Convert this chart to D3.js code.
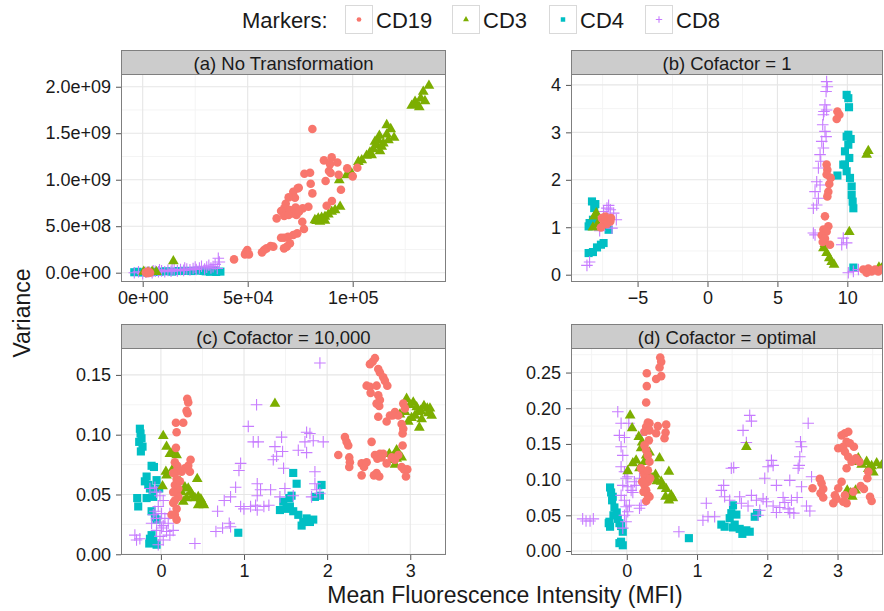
<!DOCTYPE html>
<html lang="en">
<head>
<meta charset="UTF-8" />
<title>MFI vs Variance by transformation</title>
<script src="https://cdn.jsdelivr.net/npm/d3@7"></script>
<style>
  body { margin: 0; background: #fff; }
  svg text { font-family: "Liberation Sans", Arial, Helvetica, sans-serif; fill: #1a1a1a; }
</style>
</head>
<body>
<div id="chart"></div>
<script>
// ---- data ----
const markers = ["CD19", "CD3", "CD4", "CD8"]
const markerColors = ["#F8766D", "#7CAE00", "#00BFC4", "#C77CFF"]
const panelTitles = ["(a) No Transformation", "(b) Cofactor = 1", "(c) Cofactor = 10,000", "(d) Cofactor = optimal"]

const xTicksA = [0, 5e4, 1e5], xLabelsA = ["0e+00", "5e+04", "1e+05"]
const yTicksA = [0, 5e8, 1e9, 1.5e9, 2e9], yLabelsA = ["0.0e+00", "5.0e+08", "1.0e+09", "1.5e+09", "2.0e+09"]
const xTicksB = [-5, 0, 5, 10], xLabelsB = ["\u22125", "0", "5", "10"]
const yTicksB = [0, 1, 2, 3, 4], yLabelsB = ["0", "1", "2", "3", "4"]
const xTicksC = [0, 1, 2, 3], xLabelsC = ["0", "1", "2", "3"]
const yTicksC = [0, 0.05, 0.1, 0.15], yLabelsC = ["0.00", "0.05", "0.10", "0.15"]
const xTicksD = [0, 1, 2, 3], xLabelsD = ["0", "1", "2", "3"]
const yTicksD = [0, 0.05, 0.1, 0.15, 0.2, 0.25], yLabelsD = ["0.00", "0.05", "0.10", "0.15", "0.20", "0.25"]

// (a) no transformation: [MFI, variance]
const a_CD19 = [[80800,1.545e9],[86300,1.208e9],[90000,1.24e9],[89200,1.168e9],[92700,1.186e9],[93300,1.054e9],[88700,1.093e9],[89500,1.072e9],[87100,0.986e9],[94400,0.892e9],[90100,0.771e9],[87600,0.72e9],[77000,1.064e9],[79700,1.075e9],[80000,0.957e9],[80800,0.853e9],[78900,0.71e9],[73800,0.907e9],[71700,0.871e9],[74300,0.914e9],[72500,0.806e9],[69500,0.81e9],[68100,0.742e9],[67400,0.692e9],[70100,0.674e9],[72800,0.702e9],[73200,0.62e9],[71700,0.638e9],[76200,0.692e9],[74400,0.656e9],[65900,0.663e9],[67400,0.609e9],[63800,0.584e9],[69500,0.62e9],[76000,0.548e9],[76800,0.47e9],[73600,0.423e9],[71700,0.405e9],[69200,0.387e9],[67300,0.376e9],[65900,0.376e9],[70100,0.315e9],[68600,0.28e9],[67300,0.262e9],[62200,0.28e9],[60900,0.287e9],[59000,0.262e9],[57800,0.244e9],[56800,0.219e9],[49800,0.244e9],[49200,0.219e9],[50600,0.197e9],[48700,0.197e9],[43500,0.143e9],[97400,1.122e9],[102200,1.129e9],[100000,1.036e9],[1500,0.005e9],[2500,0.012e9],[3500,0.0],[2000,-0.005e9],[3000,0.008e9]]
const a_CD3 = [[82000,0.566e9],[83600,0.584e9],[85200,0.591e9],[86800,0.602e9],[88400,0.627e9],[90000,0.656e9],[91600,0.674e9],[94000,0.71e9],[84400,0.548e9],[86800,0.559e9],[82800,0.556e9],[93600,0.996e9],[97100,1.05e9],[99500,1.068e9],[102700,1.193e9],[104300,1.211e9],[106600,1.258e9],[108200,1.294e9],[109800,1.33e9],[111400,1.373e9],[112200,1.426e9],[112700,1.473e9],[110600,1.409e9],[113800,1.355e9],[109000,1.265e9],[113000,1.308e9],[116200,1.588e9],[118100,1.545e9],[119700,1.452e9],[117000,1.426e9],[114600,1.391e9],[116200,1.487e9],[128100,1.796e9],[129700,1.839e9],[131700,1.781e9],[132400,1.874e9],[133600,1.946e9],[136300,2.011e9],[134400,1.846e9],[130500,1.81e9],[500,0.01e9],[2500,0.005e9],[4500,0.012e9],[6500,0.008e9],[14600,0.125e9]]
const a_CD4 = [[-4000,0.005e9],[-2500,0.01e9],[0,0.002e9],[2000,0.008e9],[5000,0.01e9],[8000,0.012e9],[11000,0.015e9],[14000,0.012e9],[17000,0.018e9],[20000,0.02e9],[23000,0.018e9],[26000,0.022e9],[29000,0.02e9],[32000,0.01e9],[35000,0.008e9],[37000,0.012e9],[34000,0.02e9],[30000,0.015e9]]
const a_CD8 = [[-4000,0.0],[-2000,0.01e9],[0,-0.01e9],[1500,0.005e9],[3000,0.01e9],[4500,0.0],[6000,0.015e9],[7500,0.01e9],[9000,0.02e9],[10500,0.01e9],[12000,0.025e9],[13500,0.015e9],[15000,0.03e9],[16500,0.02e9],[18000,0.035e9],[19500,0.025e9],[21000,0.04e9],[22500,0.03e9],[24000,0.045e9],[25500,0.035e9],[27000,0.05e9],[28000,0.07e9],[29500,0.04e9],[30500,0.06e9],[31500,0.08e9],[32500,0.05e9],[33500,0.065e9],[34500,0.09e9],[35500,0.045e9],[36000,0.155e9],[36500,0.115e9],[25000,0.06e9],[20000,0.05e9],[14000,0.04e9],[8000,0.03e9],[5000,0.02e9]]

// (b) cofactor = 1
const b_CD19 = [[-7.55,1.193],[-7.31,1.158],[-7.07,1.137],[-7.43,1.053],[-7.19,1.067],[-6.95,1.123],[-7.62,0.996],[-7.31,1.228],[-6.9,1.193],[9.29,3.44],[9.43,3.37],[9.24,3.28],[8.52,2.32],[8.57,2.21],[8.52,2.11],[8.81,2.04],[8.71,1.91],[8.64,1.75],[8.57,1.65],[8.4,1.23],[8.64,1.02],[8.29,0.95],[8.52,0.91],[8.17,0.83],[8.4,0.76],[8.24,0.69],[8.76,0.63],[11.14,0.11],[11.5,0.13],[11.74,0.07],[11.98,0.11],[12.21,0.07],[11.38,0.04],[12.45,0.11]]
const b_CD3 = [[-8.1,1.228],[-7.95,1.298],[-8.19,0.996],[-7.86,1.067],[11.38,2.53],[11.5,2.61],[10.14,0.9],[8.29,0.56],[8.52,0.46],[8.71,0.35],[8.88,0.27],[9.05,0.21],[8.4,0.65],[12.26,0.15],[12.45,0.13]]
const b_CD4 = [[-8.26,1.544],[-8.02,1.488],[-8.1,1.404],[-8.43,1.088],[-8.5,1.018],[-8.19,1.158],[-7.07,0.947],[-8.5,0.456],[-8.19,0.477],[-7.9,0.575],[-7.62,0.632],[-7.43,0.667],[9.95,3.79],[10.07,3.72],[10.12,3.53],[9.95,2.91],[10.24,2.86],[10.07,2.74],[9.83,2.6],[10.14,2.46],[9.71,2.32],[9.95,2.18],[10.19,2.04],[10.31,1.86],[10.31,1.68],[10.38,1.54],[10.43,1.4],[9.29,2.09],[10.43,0.15],[10.07,2.95],[9.83,2.32]]
const b_CD8 = [[-7.19,1.404],[-6.95,1.368],[-6.71,1.298],[-6.52,1.158],[-7.07,1.46],[-7.43,1.333],[-8.62,0.196],[-8.43,0.267],[-7.71,0.926],[-6.83,0.982],[-7.19,1.207],[8.52,4.07],[8.57,3.96],[8.48,3.86],[8.4,3.58],[8.33,3.44],[8.52,3.47],[8.29,3.37],[8.24,3.16],[8.4,3.02],[8.48,2.91],[8.17,2.81],[8.29,2.67],[8.05,2.53],[8.1,2.39],[7.93,2.25],[7.81,1.96],[8.05,1.89],[7.69,1.75],[7.93,1.61],[7.57,1.4],[7.81,1.47],[7.57,0.88],[7.69,0.84],[9.71,0.77],[9.95,0.67],[9.6,0.63],[10.43,0.07],[10.79,0.11],[11.38,0.07],[10.07,0.04]]

// (c) cofactor = 10,000
const c_CD19 = [[0.317,0.13],[0.329,0.127],[0.309,0.12],[0.321,0.118],[0.181,0.11],[0.269,0.11],[0.189,0.102],[0.181,0.089],[0.168,0.077],[0.197,0.074],[0.181,0.069],[0.249,0.069],[0.148,0.068],[0.189,0.063],[0.168,0.058],[0.189,0.052],[0.209,0.048],[0.168,0.045],[0.148,0.043],[0.189,0.038],[0.168,0.033],[0.189,0.029],[0.128,0.033],[0.289,0.072],[0.329,0.074],[0.357,0.079],[0.349,0.069],[0.229,0.061],[0.209,0.055],[0.148,0.052],[2.515,0.159],[2.547,0.161],[2.575,0.164],[2.615,0.155],[2.635,0.152],[2.475,0.141],[2.515,0.14],[2.595,0.141],[2.675,0.148],[2.695,0.145],[2.724,0.141],[2.615,0.133],[2.635,0.129],[2.595,0.126],[2.627,0.124],[2.615,0.115],[2.716,0.111],[2.756,0.116],[2.816,0.119],[2.856,0.116],[2.916,0.126],[2.936,0.122],[2.896,0.109],[2.916,0.105],[2.908,0.101],[2.523,0.135],[2.788,0.116],[2.214,0.098],[2.234,0.094],[2.254,0.091],[2.134,0.083],[2.266,0.081],[2.274,0.077],[2.266,0.073],[2.415,0.076],[2.443,0.073],[2.415,0.066],[2.535,0.094],[2.475,0.077],[2.575,0.083],[2.604,0.08],[2.635,0.084],[2.675,0.084],[2.655,0.081],[2.595,0.068],[2.563,0.066],[2.627,0.065],[2.776,0.081],[2.816,0.079],[2.856,0.083],[2.908,0.091],[2.896,0.073],[2.924,0.071],[2.964,0.071],[2.948,0.065],[2.716,0.076]]
const c_CD3 = [[0.028,0.099],[0.068,0.09],[0.108,0.084],[0.148,0.086],[0.189,0.083],[0.068,0.066],[0.02,0.057],[0.06,0.069],[0.148,0.072],[0.229,0.061],[0.249,0.052],[0.289,0.056],[0.329,0.055],[0.357,0.052],[0.381,0.049],[0.409,0.047],[0.449,0.048],[0.481,0.046],[0.501,0.043],[0.517,0.041],[0.449,0.041],[0.309,0.047],[0.269,0.044],[0.437,0.063],[1.372,0.126],[2.956,0.13],[2.996,0.125],[3.036,0.127],[3.077,0.123],[3.097,0.119],[3.057,0.116],[3.016,0.114],[3.125,0.12],[3.165,0.124],[3.205,0.122],[3.237,0.122],[3.217,0.118],[3.257,0.116],[3.137,0.113],[3.109,0.106],[2.936,0.119],[2.876,0.117],[2.976,0.111],[2.748,0.084],[2.796,0.082],[2.836,0.08],[2.816,0.075],[2.868,0.083],[2.896,0.081],[2.776,0.079],[2.836,0.087]]
const c_CD4 = [[-0.253,0.105],[-0.245,0.101],[-0.233,0.097],[-0.261,0.094],[-0.221,0.09],[-0.241,0.086],[-0.112,0.074],[-0.084,0.073],[-0.172,0.065],[-0.193,0.061],[-0.152,0.058],[-0.132,0.055],[-0.1,0.052],[-0.172,0.047],[-0.285,0.047],[-0.273,0.04],[-0.052,0.062],[-0.02,0.055],[-0.092,0.048],[-0.112,0.036],[-0.072,0.031],[-0.052,0.029],[-0.132,0.013],[-0.092,0.011],[-0.052,0.008],[-0.112,0.016],[-0.14,0.009],[0.931,0.018],[1.592,0.068],[1.633,0.059],[1.472,0.044],[1.512,0.038],[1.552,0.04],[1.592,0.036],[1.653,0.033],[1.713,0.027],[1.753,0.03],[1.793,0.027],[1.693,0.024],[1.833,0.029],[1.933,0.058],[1.913,0.049],[1.853,0.048],[1.572,0.049],[1.544,0.047],[1.432,0.037]]
const c_CD8 = [[1.913,0.16],[1.151,0.125],[1.051,0.107],[1.111,0.094],[1.171,0.094],[1.452,0.098],[1.372,0.09],[1.464,0.086],[1.352,0.079],[1.392,0.082],[1.476,0.072],[0.959,0.076],[0.939,0.07],[0.899,0.056],[0.838,0.048],[0.762,0.045],[0.682,0.036],[0.662,0.019],[0.742,0.022],[0.822,0.026],[0.838,0.023],[0.959,0.04],[0.999,0.038],[1.079,0.04],[1.139,0.041],[1.159,0.037],[1.239,0.04],[1.299,0.041],[1.32,0.054],[1.159,0.059],[1.199,0.054],[1.159,0.049],[1.432,0.048],[1.492,0.055],[1.592,0.049],[1.653,0.087],[1.753,0.085],[1.753,0.102],[1.793,0.101],[1.833,0.095],[1.953,0.094],[1.733,0.094],[1.853,0.069],[1.853,0.059],[1.873,0.054],[1.813,0.048],[1.913,0.051],[0.409,0.009],[-0.313,0.016],[-0.293,0.012],[-0.253,0.013],[-0.132,0.055],[-0.072,0.056],[-0.012,0.049],[-0.052,0.052],[0.028,0.045],[-0.032,0.04],[-0.092,0.033],[-0.052,0.03],[-0.012,0.027],[0.028,0.024],[0.048,0.03],[0.008,0.022],[-0.052,0.02],[0.068,0.019],[0.108,0.016],[0.148,0.02],[-0.012,0.015],[0.028,0.012],[-0.032,0.008],[0.088,0.026],[-0.112,0.026],[-0.072,0.036],[0.008,0.034],[0.108,0.034]]

// (d) cofactor = optimal
const d_CD19 = [[0.476,0.271],[0.49,0.265],[0.466,0.257],[0.418,0.241],[0.49,0.245],[0.285,0.249],[0.285,0.231],[0.276,0.208],[0.3,0.18],[0.323,0.179],[0.276,0.174],[0.442,0.175],[0.418,0.165],[0.561,0.177],[0.552,0.166],[0.537,0.158],[0.252,0.167],[0.323,0.169],[0.314,0.155],[0.252,0.148],[0.276,0.141],[0.3,0.134],[0.323,0.125],[0.204,0.116],[0.238,0.111],[0.252,0.106],[0.276,0.102],[0.3,0.097],[0.252,0.092],[0.276,0.085],[0.3,0.078],[0.276,0.07],[0.323,0.076],[0.238,0.083],[0.219,0.097],[0.333,0.102],[0.3,0.113],[3.058,0.162],[3.105,0.165],[3.153,0.167],[3.01,0.144],[3.081,0.146],[3.129,0.153],[3.176,0.151],[3.233,0.146],[3.105,0.139],[3.153,0.132],[3.129,0.116],[3.2,0.125],[3.058,0.097],[3.01,0.088],[2.962,0.078],[2.986,0.073],[2.939,0.067],[3.081,0.069],[3.129,0.067],[3.105,0.078],[3.224,0.083],[3.329,0.091],[3.376,0.087],[3.424,0.102],[3.462,0.076],[3.485,0.07],[3.438,0.111],[3.31,0.125],[2.796,0.087],[2.748,0.101],[2.772,0.095],[2.758,0.081],[2.796,0.075],[2.644,0.088],[3.262,0.13]]
const d_CD3 = [[0.048,0.19],[0.076,0.172],[0.171,0.16],[0.219,0.152],[0.204,0.144],[0.133,0.127],[0.086,0.123],[0.014,0.112],[0.181,0.116],[0.252,0.125],[0.276,0.134],[0.323,0.138],[0.466,0.13],[0.371,0.102],[0.428,0.098],[0.49,0.097],[0.504,0.091],[0.561,0.087],[0.599,0.111],[0.632,0.078],[0.656,0.074],[0.599,0.071],[0.552,0.076],[0.276,0.082],[0.333,0.104],[0.409,0.107],[1.702,0.146],[3.224,0.125],[3.295,0.13],[3.343,0.121],[3.414,0.125],[3.485,0.119],[3.557,0.123],[3.628,0.12],[3.509,0.11],[3.438,0.115],[3.186,0.081],[3.138,0.085],[3.257,0.085],[3.21,0.076]]
const d_CD4 = [[-0.238,0.089],[-0.223,0.082],[-0.2,0.076],[-0.209,0.071],[-0.247,0.041],[-0.238,0.034],[-0.19,0.05],[-0.143,0.054],[-0.128,0.045],[-0.105,0.039],[-0.081,0.035],[-0.057,0.027],[-0.105,0.011],[-0.057,0.008],[-0.081,0.013],[-0.176,0.061],[-0.257,0.039],[0.884,0.018],[1.512,0.064],[1.488,0.053],[1.465,0.046],[1.536,0.037],[1.512,0.033],[1.607,0.031],[1.645,0.024],[1.702,0.029],[1.75,0.027],[1.821,0.048],[1.855,0.053],[1.393,0.034],[1.346,0.037],[1.56,0.051]]
const d_CD8 = [[-0.128,0.195],[-0.081,0.179],[0.029,0.179],[-0.105,0.162],[-0.033,0.159],[-0.081,0.146],[-0.057,0.134],[-0.081,0.118],[-0.033,0.111],[-0.01,0.102],[-0.057,0.092],[0.014,0.09],[0.062,0.085],[0.086,0.082],[0.133,0.092],[-0.081,0.078],[-0.033,0.071],[-0.01,0.062],[0.014,0.055],[-0.033,0.05],[0.038,0.064],[0.181,0.06],[0.204,0.064],[0.181,0.102],[0.109,0.097],[-0.628,0.045],[-0.58,0.042],[-0.523,0.042],[-0.476,0.045],[0.204,0.162],[0.014,0.104],[-0.01,0.041],[-0.057,0.032],[0.742,0.027],[1.132,0.067],[1.084,0.043],[1.156,0.048],[1.251,0.048],[1.346,0.085],[1.379,0.092],[1.393,0.076],[1.465,0.071],[1.488,0.116],[1.522,0.117],[1.75,0.19],[1.774,0.182],[1.655,0.169],[1.702,0.152],[2.011,0.118],[2.059,0.127],[2.083,0.12],[1.964,0.102],[2.13,0.092],[1.774,0.078],[1.845,0.071],[1.94,0.073],[1.988,0.069],[2.083,0.063],[2.13,0.054],[2.178,0.061],[2.225,0.075],[2.249,0.068],[2.297,0.059],[2.32,0.054],[2.378,0.053],[2.344,0.071],[2.425,0.075],[2.439,0.116],[2.473,0.153],[2.487,0.146],[2.463,0.132],[2.454,0.12],[2.32,0.099],[2.487,0.09],[2.558,0.063],[2.606,0.056],[2.582,0.179],[2.63,0.104],[1.893,0.057],[1.869,0.05],[1.607,0.076],[1.631,0.067],[1.726,0.063]]

// ---- layout ----
const W = 884, H = 611
const font = '"Liberation Sans", Arial, Helvetica, sans-serif'

const panels = [
  { title: panelTitles[0], left: 121, right: 446, top: 74, bottom: 282,
    xDomain: [-10333, 144428], yDomain: [-1.0e8, 2.137e9],
    xTicks: xTicksA, xLabels: xLabelsA, yTicks: yTicksA, yLabels: yLabelsA,
    series: [a_CD19, a_CD3, a_CD4, a_CD8] },
  { title: panelTitles[1], left: 571, right: 883, top: 74, bottom: 282,
    xDomain: [-9.76, 12.55], yDomain: [-0.154, 4.23],
    xTicks: xTicksB, xLabels: xLabelsB, yTicks: yTicksB, yLabels: yLabelsB,
    series: [b_CD19, b_CD3, b_CD4, b_CD8] },
  { title: panelTitles[2], left: 121, right: 446, top: 348, bottom: 555,
    xDomain: [-0.48, 3.43], yDomain: [-0.0006, 0.1725],
    xTicks: xTicksC, xLabels: xLabelsC, yTicks: yTicksC, yLabels: yLabelsC,
    series: [c_CD19, c_CD3, c_CD4, c_CD8] },
  { title: panelTitles[3], left: 571, right: 883, top: 348, bottom: 555,
    xDomain: [-0.794, 3.647], yDomain: [-0.0056, 0.2844],
    xTicks: xTicksD, xLabels: xLabelsD, yTicks: yTicksD, yLabels: yLabelsD,
    series: [d_CD19, d_CD3, d_CD4, d_CD8] }
]
const stripH = 24

const svg = d3.select("#chart").append("svg")
  .attr("width", W).attr("height", H)
  .style("display", "block")

// marker glyphs
const symPath = {
  CD19: d3.symbol(d3.symbolCircle, 58)(),
  CD3: d3.symbol(d3.symbolTriangle, 50)(),
  CD4: d3.symbol(d3.symbolSquare, 66)()
}
function drawMarker(sel, name, color, scale) {
  if (name === "CD8") {
    const h = 5.8 * scale
    sel.append("path").attr("d", `M${-h},0H${h}M0,${-h}V${h}`)
      .attr("fill", "none").attr("stroke", color).attr("stroke-width", 1.1)
  } else {
    sel.append("path").attr("d", symPath[name])
      .attr("transform", `scale(${scale})`)
      .attr("fill", color)
  }
}

// minor break positions: midpoints between major ticks
function minors(ticks, domain) {
  const step = ticks[1] - ticks[0]
  const out = []
  for (let v = ticks[0] - step / 2; v <= domain[1]; v += step) {
    if (v >= domain[0]) out.push(v)
  }
  return out
}

const drawOrder = [2, 3, 1, 0] // CD4, CD8, CD3, CD19

panels.forEach((p, pi) => {
  const x = d3.scaleLinear().domain(p.xDomain).range([p.left, p.right])
  const y = d3.scaleLinear().domain(p.yDomain).range([p.bottom, p.top])
  const g = svg.append("g")

  g.append("rect").attr("x", p.left).attr("y", p.top)
    .attr("width", p.right - p.left).attr("height", p.bottom - p.top).attr("fill", "#fff")

  // minor grid
  minors(p.xTicks, p.xDomain).forEach(v => {
    g.append("line").attr("x1", x(v)).attr("x2", x(v)).attr("y1", p.top).attr("y2", p.bottom)
      .attr("stroke", "#F4F4F4").attr("stroke-width", 1)
  })
  minors(p.yTicks, p.yDomain).forEach(v => {
    g.append("line").attr("x1", p.left).attr("x2", p.right).attr("y1", y(v)).attr("y2", y(v))
      .attr("stroke", "#F4F4F4").attr("stroke-width", 1)
  })
  // major grid
  p.xTicks.forEach(v => {
    g.append("line").attr("x1", x(v)).attr("x2", x(v)).attr("y1", p.top).attr("y2", p.bottom)
      .attr("stroke", "#E6E6E6").attr("stroke-width", 1.1)
  })
  p.yTicks.forEach(v => {
    g.append("line").attr("x1", p.left).attr("x2", p.right).attr("y1", y(v)).attr("y2", y(v))
      .attr("stroke", "#E6E6E6").attr("stroke-width", 1.1)
  })

  // points
  const clipId = "clip" + pi
  svg.append("clipPath").attr("id", clipId).append("rect")
    .attr("x", p.left).attr("y", p.top).attr("width", p.right - p.left).attr("height", p.bottom - p.top)
  const pts = g.append("g").attr("clip-path", `url(#${clipId})`)
  drawOrder.forEach(k => {
    const name = markers[k], color = markerColors[k]
    pts.append("g").selectAll("g")
      .data(p.series[k])
      .enter()
      .append("g")
      .attr("transform", d => `translate(${x(d[0])},${y(d[1])})`)
      .each(function () { drawMarker(d3.select(this), name, color, 1) })
  })

  // border
  g.append("rect").attr("x", p.left + 0.5).attr("y", p.top + 0.5)
    .attr("width", p.right - p.left - 1).attr("height", p.bottom - p.top - 1)
    .attr("fill", "none").attr("stroke", "#7F7F7F").attr("stroke-width", 1)

  // strip
  g.append("rect").attr("x", p.left + 0.5).attr("y", p.top - stripH + 0.5)
    .attr("width", p.right - p.left - 1).attr("height", stripH)
    .attr("fill", "#CCCCCC").attr("stroke", "#7F7F7F").attr("stroke-width", 1)
  g.append("text").attr("x", (p.left + p.right) / 2).attr("y", p.top - 4.5)
    .attr("text-anchor", "middle").style("font-size", "18.5px").text(p.title)

  // axes
  const xAxis = d3.axisBottom(x).tickValues(p.xTicks).tickFormat((d, i) => p.xLabels[i])
    .tickSize(5).tickSizeOuter(0).tickPadding(4)
  const yAxis = d3.axisLeft(y).tickValues(p.yTicks).tickFormat((d, i) => p.yLabels[i])
    .tickSize(5).tickSizeOuter(0).tickPadding(5)

  const gx = g.append("g").attr("transform", `translate(0,${p.bottom})`).call(xAxis)
  const gy = g.append("g").attr("transform", `translate(${p.left},0)`).call(yAxis)
  ;[gx, gy].forEach(ax => {
    ax.select(".domain").remove()
    ax.selectAll(".tick line").attr("stroke", "#555")
    ax.selectAll(".tick text").style("font-size", "18px").style("font-family", font).attr("fill", "#1a1a1a")
  })
})

// axis titles
svg.append("text")
  .attr("transform", "translate(30,313) rotate(-90)")
  .attr("text-anchor", "middle").style("font-size", "23px").text("Variance")
svg.append("text")
  .attr("x", 505).attr("y", 603)
  .attr("text-anchor", "middle").style("font-size", "23px").text("Mean Fluorescence Intensity (MFI)")

// legend
const legend = svg.append("g")
legend.append("text").attr("x", 242).attr("y", 28).style("font-size", "22px").text("Markers:")
const keyX = [345, 452, 549, 645]
markers.forEach((m, i) => {
  const kg = legend.append("g")
  kg.append("rect").attr("x", keyX[i] + 0.5).attr("y", 5.5).attr("width", 27).attr("height", 28)
    .attr("fill", "#fff").attr("stroke", "#D9D9D9").attr("stroke-width", 1)
  const mk = kg.append("g").attr("transform", `translate(${keyX[i] + 14},${19.5})`)
  drawMarker(mk, m, markerColors[i], 0.55)
  kg.append("text").attr("x", keyX[i] + 31).attr("y", 28).style("font-size", "22px").text(m)
})
</script>
</body>
</html>
